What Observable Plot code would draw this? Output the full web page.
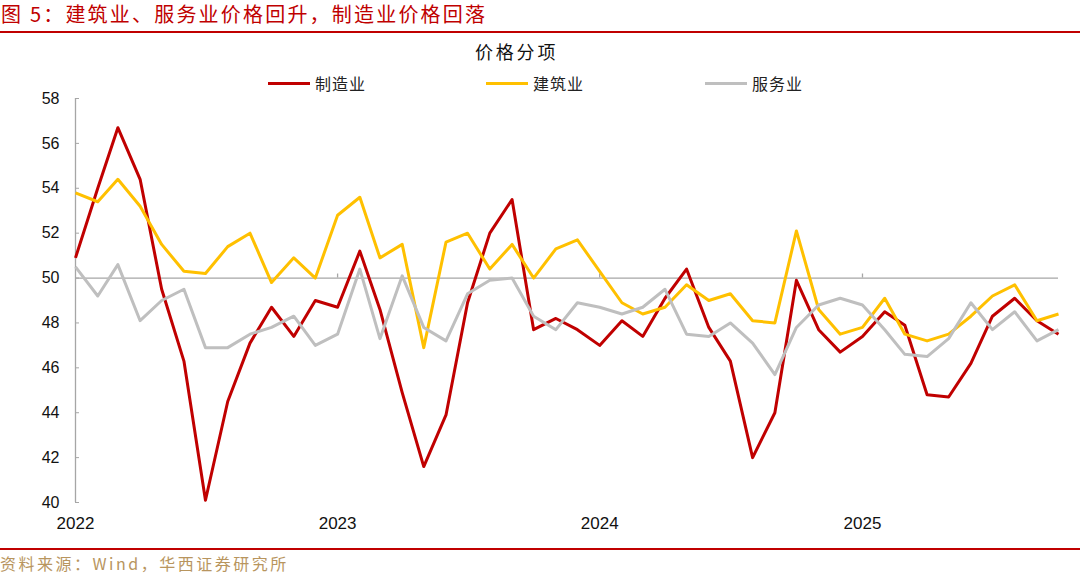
<!DOCTYPE html>
<html><head><meta charset="utf-8">
<script src="https://cdn.jsdelivr.net/npm/d3@7"></script>
<script src="https://cdn.jsdelivr.net/npm/@observablehq/plot@0.6"></script>
<style>
body{margin:0;background:#fff;}
#page{position:relative;width:1080px;height:576px;overflow:hidden;font-family:"Noto Sans CJK SC",sans-serif;background:#fff;}
.abs{position:absolute;white-space:nowrap;line-height:1;}
#title{left:1px;top:4px;font-size:20px;color:#c00000;letter-spacing:2.2px;}
#topline{left:0;top:31px;width:1080px;height:2px;background:#c00000;}
#ctitle{left:475px;top:42px;font-size:18px;color:#111;letter-spacing:2.8px;}
#chart{position:absolute;left:0;top:90px;}
#botline{left:0;top:548px;width:1080px;height:2px;background:#c00000;}
#source{left:0;top:555px;font-size:16px;color:#b8955e;letter-spacing:2.5px;}
.leg{position:absolute;top:75px;height:16px;font-size:16px;line-height:1;color:#222;letter-spacing:1px;}
.leg .sw{position:absolute;left:0;top:6.5px;width:42px;height:3px;}
.leg .tx{position:absolute;left:47px;top:0;white-space:nowrap;}
</style></head><body>
<div id="page">
  <div id="title" class="abs">图 5：建筑业、服务业价格回升，制造业价格回落</div>
  <div id="topline" class="abs"></div>
  <div id="ctitle" class="abs">价格分项</div>
  <div id="legend"></div>
  <div id="chart"></div>
  <div id="botline" class="abs"></div>
  <div id="source" class="abs">资料来源：Wind，华西证券研究所</div>
</div>
<script>
const seriesNames = ["制造业", "建筑业", "服务业"];
const seriesColors = ["#c00000", "#ffc000", "#bfbfbf"];
const legendLeft = [268, 486, 705];

// Monthly values, Jan 2022 – Oct 2025
const manufacturing = [
  50.9, 54.0, 56.7, 54.4, 49.5, 46.3, 40.1, 44.5, 47.1, 48.7, 47.4, 49.0,
  48.7, 51.2, 48.6, 44.9, 41.6, 43.9, 48.9, 52.0, 53.5, 47.7, 48.2, 47.7,
  47.0, 48.1, 47.4, 49.1, 50.4, 47.8, 46.3, 42.0, 44.0, 49.9, 47.7, 46.7,
  47.4, 48.5, 47.9, 44.8, 44.7, 46.2, 48.3, 49.1, 48.1, 47.5
];
const construction = [
  53.8, 53.4, 54.4, 53.2, 51.5, 50.3, 50.2, 51.4, 52.0, 49.8, 50.9, 50.0,
  52.8, 53.6, 50.9, 51.5, 46.9, 51.6, 52.0, 50.4, 51.5, 50.0, 51.3, 51.7,
  50.3, 48.9, 48.4, 48.7, 49.7, 49.0, 49.3, 48.1, 48.0, 52.1, 48.6, 47.5,
  47.8, 49.1, 47.5, 47.2, 47.5, 48.3, 49.2, 49.7, 48.1, 48.4
];
const services = [
  50.5, 49.2, 50.6, 48.1, 49.0, 49.5, 46.9, 46.9, 47.5, 47.8, 48.3, 47.0,
  47.5, 50.4, 47.3, 50.1, 47.8, 47.2, 49.3, 49.9, 50.0, 48.3, 47.7, 48.9,
  48.7, 48.4, 48.7, 49.5, 47.5, 47.4, 48.0, 47.1, 45.7, 47.8, 48.8, 49.1,
  48.8, 47.7, 46.6, 46.5, 47.3, 48.9, 47.7, 48.5, 47.2, 47.7
];
const yearLabels = ["2022", "2023", "2024", "2025"];
const yTicks = [40, 42, 44, 46, 48, 50, 52, 54, 56, 58];

const seriesValues = [manufacturing, construction, services];
const months = d3.utcMonth.range(new Date(Date.UTC(2022, 0, 1)), new Date(Date.UTC(2022, manufacturing.length, 1)));
const yearDates = yearLabels.map(y => new Date(Date.UTC(+y, 0, 1)));
const rows = seriesNames.flatMap((name, si) => seriesValues[si].map((v, i) => ({series: name, date: months[i], value: v})));

// legend
const legend = document.getElementById("legend");
seriesNames.forEach((name, i) => {
  const item = document.createElement("div");
  item.className = "leg";
  item.style.left = legendLeft[i] + "px";
  item.innerHTML = `<div class="sw" style="background:${seriesColors[i]}"></div><div class="tx">${name}</div>`;
  legend.appendChild(item);
});

const chart = Plot.plot({
  width: 1080,
  height: 450,
  marginTop: 8,
  marginBottom: 38,
  marginLeft: 75,
  marginRight: 22,
  style: {fontFamily: "'Liberation Sans', Arial, sans-serif", fontSize: "16px", background: "transparent", color: "#111"},
  x: {type: "utc", domain: [months[0], months[months.length - 1]], label: null},
  y: {domain: [40, 58], label: null},
  color: {domain: seriesNames, range: seriesColors},
  marks: [
    Plot.ruleY([50], {stroke: "#a6a6a6", strokeWidth: 1.3}),
    Plot.ruleX([months[0]], {y1: 40, y2: 58, stroke: "#a6a6a6", strokeWidth: 1.3}),
    Plot.ruleX(yearDates.slice(1), {y1: 50, y2: 50.18, stroke: "#a6a6a6", strokeWidth: 1.3}),
    Plot.axisY({ticks: yTicks, tickSize: -4, tickPadding: 20, stroke: "#a6a6a6", fill: "#111", fontSize: 16, label: null, tickFormat: d => String(d)}),
    Plot.axisX(yearDates, {tickSize: 0, tickPadding: 14, tickFormat: "%Y", fill: "#111", fontSize: 17, label: null}),
    Plot.lineY(rows, {x: "date", y: "value", z: "series", stroke: "series", strokeWidth: 3, strokeLinejoin: "round", strokeLinecap: "butt"})
  ]
});
document.getElementById("chart").appendChild(chart);
</script>
</body></html>
